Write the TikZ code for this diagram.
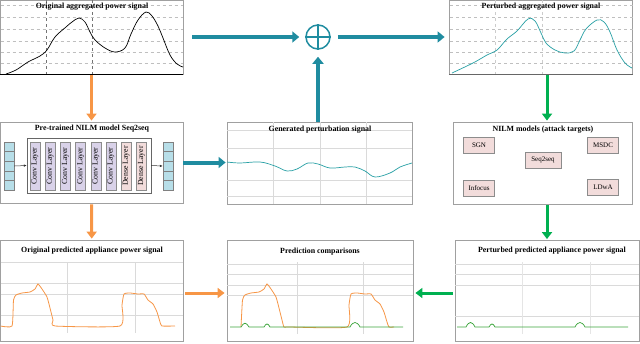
\documentclass[tikz,border=0pt]{standalone}
\usepackage{fontspec}
\setmainfont{Liberation Serif}
\usetikzlibrary{arrows.meta,positioning,calc}

\definecolor{flowteal}{RGB}{31,140,160}
\definecolor{sigteal}{RGB}{40,160,165}
\definecolor{flowor}{RGB}{247,150,70}
\definecolor{flowgr}{RGB}{0,176,80}
\definecolor{siggr}{RGB}{60,165,60}
\definecolor{convfill}{RGB}{217,210,233}
\definecolor{densefill}{RGB}{242,220,219}
\definecolor{cellfill}{RGB}{183,222,232}
\definecolor{gridgray}{RGB}{218,218,218}
\definecolor{framegray}{RGB}{160,160,160}

\tikzset{
  panel/.style={draw=framegray,line width=0.8pt,fill=white,inner sep=0pt},
  ptitle/.style={font=\fontsize{7.9}{9}\selectfont\bfseries},
  layer/.style={draw=black!45,rotate=90,minimum width=48pt,minimum height=10pt,inner sep=0pt,font=\fontsize{7.8}{8}\selectfont},
  model/.style={draw=black!45,fill=densefill,minimum width=31pt,minimum height=16pt,inner sep=1pt,font=\fontsize{7}{8}\selectfont},
  cell/.style={draw=black!50,fill=cellfill,minimum width=10pt,minimum height=9.6pt,inner sep=0pt},
  tealarrow/.style={-{Triangle[length=7pt,width=11pt]},line width=4pt,draw=flowteal},
  orarrow/.style={-{Triangle[length=7pt,width=10pt]},line width=3pt,draw=flowor},
  grarrow/.style={-{Triangle[length=7pt,width=10pt]},line width=3pt,draw=flowgr},
  gridline/.style={draw=gridgray,line width=0.5pt},
  dgrid/.style={draw=black!25,line width=0.4pt,dashed},
}

\begin{document}
\begin{tikzpicture}[>=Latex,x=1pt,y=-1pt]
  \useasboundingbox (0,0) rectangle (640,343);

  % top row: aggregated signals
  \node[panel,minimum width=183pt,minimum height=74pt] (origsig) at (91.5,37) {};
  \foreach \y in {5,17,29,41,52,63}
    \draw[dgrid] (0.5,\y) -- (183,\y);
  \foreach \x in {46,92}
    \draw[dgrid,draw=black!55] (\x,0) -- (\x,74);
  \draw[black,line width=0.8pt] (origsig.south west) -- (origsig.south east);
  \draw[black,line width=0.7pt] plot[smooth,tension=0.6] coordinates {
    (6,74) (16,70) (28,62) (40,56) (47,50) (55,37) (66,27) (72,22) (79,18) (85,22)
    (90,32) (95,40) (105,48) (115,52) (125,48) (131,34) (138,20) (146,12) (152,16)
    (158,26) (163,38) (170,55) (177,64) (183,67)};
  \node[ptitle] (origtitle) at (92,6.5) {Original aggregated power signal};

  \node[circle,draw=flowteal,line width=1.5pt,minimum size=24pt,inner sep=0pt] (plusop) at (318,37) {};
  \draw[flowteal,line width=2.6pt] (plusop.north) -- (plusop.south) (plusop.west) -- (plusop.east);

  \node[panel,minimum width=183pt,minimum height=74pt] (pertagg) at (541,37) {};
  \foreach \y in {5,17,29,41,52,63}
    \draw[dgrid] (450,\y) -- (632.5,\y);
  \foreach \x in {495,542}
    \draw[dgrid,draw=black!20] (\x,0) -- (\x,74);
  \draw[black!60,line width=0.8pt] (pertagg.south west) -- (pertagg.south east);
  \draw[sigteal,line width=0.7pt] plot[smooth,tension=0.6] coordinates {
    (452,73) (473,63) (487,55) (497,50) (507,39) (517,31) (528,19) (535,21)
    (541,33) (546,43) (555,50) (565,53) (574,51) (580,40) (586,29) (597,20) (604,22)
    (610,32) (617,50) (625,63) (632,68)};
  \node[ptitle] (pertaggtitle) at (541,6.5) {Perturbed aggregated power signal};

  % middle row
  \node[panel,minimum width=183pt,minimum height=81pt] (pretrained) at (91.5,162.5) {};
  \node[ptitle] (pretitle) at (92,129) {Pre-trained NILM model Seq2seq};
  \node[draw=black!60,fill=white,minimum width=124pt,minimum height=55pt,inner sep=0pt] (seqnet) at (89,165.5) {};
  \foreach \i/\lab/\col in {0/Conv/convfill,1/Conv/convfill,2/Conv/convfill,3/Conv/convfill,
                            4/Conv/convfill,5/Conv/convfill,6/Dense/densefill,7/Dense/densefill}
    \node[layer,fill=\col] (lay\i) at ({35+15.2*\i},166) {\lab{} Layer};
  \foreach \j in {0,...,4} {
    \node[cell] (inc\j) at (9,{146.8+9.6*\j}) {};
    \node[cell] (outc\j) at (168,{146.8+9.6*\j}) {};
  }
  \draw[-{Latex[length=3pt,width=2.5pt]},black!80,line width=0.5pt] (inc2.east) -- (seqnet.west);
  \draw[-{Latex[length=3pt,width=2.5pt]},black!80,line width=0.5pt] (seqnet.east) -- (outc2.west);

  \node[panel,minimum width=185pt,minimum height=82pt] (pertsig) at (319.5,163) {};
  \foreach \y in {130,148,180,196}
    \draw[gridline] (227,\y) -- (412,\y);
  \foreach \x in {273,320,366}
    \draw[gridline] (\x,122) -- (\x,204);
  \draw[sigteal,line width=0.7pt] plot[smooth,tension=0.6] coordinates {
    (227,162) (240,163) (260,162) (275,166) (287,171) (297,169) (308,163) (318,164)
    (330,168) (345,167) (355,167) (365,171) (375,177) (390,173) (400,167) (412,163)};
  \node[ptitle] (pertsigtitle) at (320,130) {Generated perturbation signal};

  \node[panel,minimum width=179pt,minimum height=82pt] (targets) at (543,163) {};
  \node[ptitle] (targettitle) at (543,130) {NILM models (attack targets)};
  \node[model] (sgn) at (479,145) {SGN};
  \node[model] (msdc) at (603,145) {MSDC};
  \node[model,minimum width=36pt] (seqtwo) at (543,160) {Seq2seq};
  \node[model] (infocus) at (479,188) {Infocus};
  \node[model] (ldwa) at (603,187) {LDwA};

  % bottom row
  \node[panel,minimum width=182.5pt,minimum height=101pt] (origpred) at (91.75,290.5) {};
  \foreach \y in {262,283,294,315}
    \draw[gridline] (0.5,\y) -- (183,\y);
  \foreach \x in {67,135}
    \draw[gridline] (\x,262) -- (\x,333);
  \draw[flowor,line width=0.8pt] plot[smooth,tension=0.3] coordinates {
    (0.5,326) (12,326) (13.5,300) (16,295) (22,293) (30,292) (35,289) (38,284) (42,289)
    (47,297) (50,308) (53,320) (55,326) (120,326) (122,305) (124,294) (130,293)
    (138,294) (144,294) (148,300) (153,304) (157,312) (160,322) (162,326) (175,326)};
  \node[ptitle] (origpredtitle) at (92,251) {Original predicted appliance power signal};

  \node[panel,minimum width=186pt,minimum height=101pt] (compare) at (320,291) {};
  \foreach \y in {264,274,285,295}
    \draw[gridline] (227,\y) -- (413,\y);
  \foreach \x in {297,363}
    \draw[gridline] (\x,262) -- (\x,334);
  \draw[flowor,line width=0.8pt] plot[smooth,tension=0.3] coordinates {
    (241,327) (242.5,300) (245,295) (251,293) (259,292) (264,289) (267,284) (271,289)
    (276,297) (279,308) (282,320) (284,327) (289,327)
    (347,327) (349,305) (351,294) (357,293) (365,294) (371,294) (375,300) (380,304)
    (384,312) (387,322) (389,327) (394,327)};
  \draw[siggr,line width=0.7pt] (230,327) -- (241,327) .. controls (244,322) and (246,322) .. (249,327)
    -- (264,327) .. controls (266,323) and (268,323) .. (270,327)
    -- (350,327) .. controls (353,321) and (357,321) .. (360,327) -- (403,327);
  \node[ptitle] (comparetitle) at (320,252) {Prediction comparisons};

  \node[panel,minimum width=184pt,minimum height=101pt] (pertpred) at (547,291) {};
  \foreach \y in {264,274,285,316}
    \draw[gridline] (455,\y) -- (639,\y);
  \foreach \x in {522,590}
    \draw[gridline,draw=black!10] (\x,262) -- (\x,334);
  \draw[siggr,line width=0.7pt] (457,327) -- (466,327) .. controls (469,321) and (472,321) .. (475,327)
    -- (489,327) .. controls (491,323) and (493,323) .. (495,327)
    -- (575,327) .. controls (578,321) and (582,321) .. (585,327) -- (628,327);
  \node[ptitle] (pertpredtitle) at (552,251) {Perturbed predicted appliance power signal};

  % flow arrows
  \coordinate (gcol) at (547,0);
  \coordinate (hrow) at (0,293);
  \draw[tealarrow,shorten <=9pt,shorten >=6pt] (origsig.east) -- (plusop.west);
  \draw[tealarrow,shorten <=7pt,shorten >=4.5pt] (plusop.east) -- (pertagg.west);
  \draw[tealarrow,shorten >=7pt] (pertsig.north -| plusop.south) -- (plusop.south);
  \draw[tealarrow,shorten >=1pt] (pretrained.east) -- (pretrained.east -| pertsig.west);
  \draw[orarrow,shorten <=1pt,shorten >=1pt] (origsig.south) -- (pretrained.north);
  \draw[orarrow,shorten <=1pt,shorten >=1pt] (pretrained.south) -- (origpred.north);
  \draw[grarrow,shorten <=1pt,shorten >=1pt] (pertagg.south -| gcol) -- (targets.north -| gcol);
  \draw[grarrow,shorten <=1pt,shorten >=1pt] (targets.south -| gcol) -- (pertpred.north -| gcol);
  \draw[orarrow,shorten <=2pt,shorten >=2pt] (origpred.east |- hrow) -- (compare.west |- hrow);
  \draw[grarrow,shorten <=2pt,shorten >=2pt] (pertpred.west |- hrow) -- (compare.east |- hrow);
\end{tikzpicture}
\end{document}
